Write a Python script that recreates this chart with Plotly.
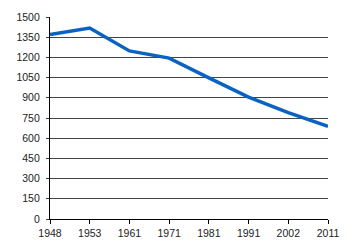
import plotly.graph_objects as go

years = ["1948", "1953", "1961", "1971", "1981", "1991", "2002", "2011"]
values = [1370, 1418, 1248, 1195, 1048, 905, 790, 688]
y_ticks = [0, 150, 300, 450, 600, 750, 900, 1050, 1200, 1350, 1500]

fig = go.Figure()
fig.add_trace(go.Scatter(
    x=years, y=values, mode="lines",
    line=dict(color="#0a63c2", width=3.5),
    hoverinfo="skip",
))

fig.update_layout(
    width=350, height=250,
    margin=dict(l=50, r=15, t=11, b=20),
    paper_bgcolor="white", plot_bgcolor="white",
    showlegend=False,
    font=dict(family="Liberation Sans, Arial, sans-serif", size=10.5, color="#222"),
)
fig.update_xaxes(
    type="category", range=[0, 7],
    showline=True, linecolor="black", linewidth=1.2,
    showgrid=False, ticks="outside", ticklen=4, tickcolor="black",
    tickfont=dict(size=10.5),
)
fig.update_yaxes(
    range=[0, 1500], tickvals=y_ticks,
    showline=True, linecolor="black", linewidth=1.2,
    showgrid=True, gridcolor="#444", gridwidth=1,
    ticks="outside", ticklen=3, tickcolor="#444",
    ticklabelstandoff=4,
    zeroline=False,
)

fig.write_html("out.html")
